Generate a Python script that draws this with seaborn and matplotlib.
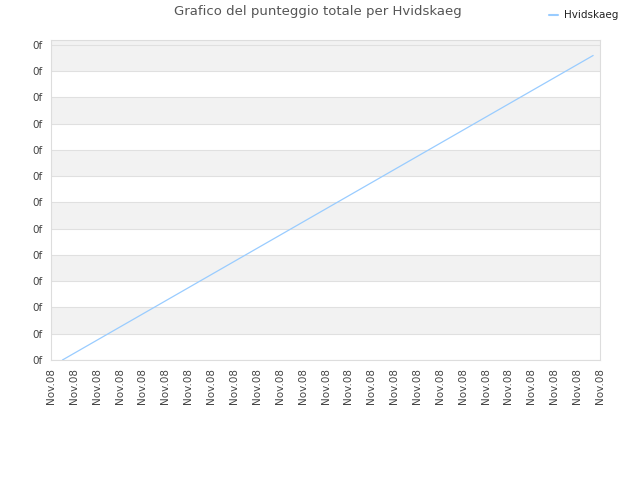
import numpy as np
import pandas as pd
import matplotlib
matplotlib.use("Agg")
import matplotlib.pyplot as plt
import seaborn as sns

# data
x_pos = [0.5, 1.5, 2.5, 3.5, 4.5, 5.5, 6.5, 7.5, 8.5, 9.5, 10.5, 11.5,
         12.5, 13.5, 14.5, 15.5, 16.5, 17.5, 18.5, 19.5, 20.5, 21.5, 22.5, 23.7]
score = [0.0, 0.5, 1.0, 1.5, 2.0, 2.5, 3.0, 3.5, 4.0, 4.5, 5.0, 5.5,
         6.0, 6.5, 7.0, 7.5, 8.0, 8.5, 9.0, 9.5, 10.0, 10.5, 11.0, 11.6]
x_labels = ["Nov.08"] * 25
y_ticks = [0, 1, 2, 3, 4, 5, 6, 7, 8, 9, 10, 11, 12]
y_labels = ["0f"] * 13
player = "Hvidskaeg"

df = pd.DataFrame({"x": x_pos, "score": score, "player": player})

sns.set_style("white")
plt.rcParams['font.family'] = ['DejaVu Sans']

fig = plt.figure(figsize=(6.4, 4.8), dpi=100)
ax = fig.add_axes([51 / 640, 120 / 480, 549 / 640, 320 / 480])

# alternating bands
for i, t in enumerate(y_ticks[:-1]):
    if i % 2 == 1:
        ax.axhspan(t, t + 1, color="#f2f2f2", zorder=0, lw=0)
ax.axhspan(12, 12.19, color="#f2f2f2", zorder=0, lw=0)
for t in y_ticks:
    ax.axhline(t, color="#e0e0e0", lw=0.8, zorder=1)

sns.lineplot(data=df, x="x", y="score", hue="player", palette=["#99ccff"],
             linewidth=0.9, ax=ax, legend=False, zorder=3)

ax.set_xlim(0, 24)
ax.set_ylim(0, 12.19)
ax.set_xticks(range(25))
ax.set_xticklabels(x_labels, rotation=90, fontsize=7.5, color="#444444")
ax.set_yticks(y_ticks)
ax.set_yticklabels(y_labels, fontsize=7.5, color="#444444")
ax.tick_params(length=0, pad=6)
ax.set_xlabel("")
ax.set_ylabel("")
for s in ax.spines.values():
    s.set_color("#dddddd")
    s.set_linewidth(0.8)

fig.text(318 / 640, 1 - 12 / 480, "Grafico del punteggio totale per Hvidskaeg",
         ha="center", va="center", fontsize=9.5, color="#555555")
fig.lines.append(plt.Line2D([549 / 640, 558 / 640], [1 - 15 / 480, 1 - 15 / 480],
                            color="#99ccff", lw=1.5, transform=fig.transFigure))
fig.text(564 / 640, 1 - 15 / 480, player, ha="left", va="center",
         fontsize=7.5, color="#222222")

fig.savefig("out.png", dpi=100)
